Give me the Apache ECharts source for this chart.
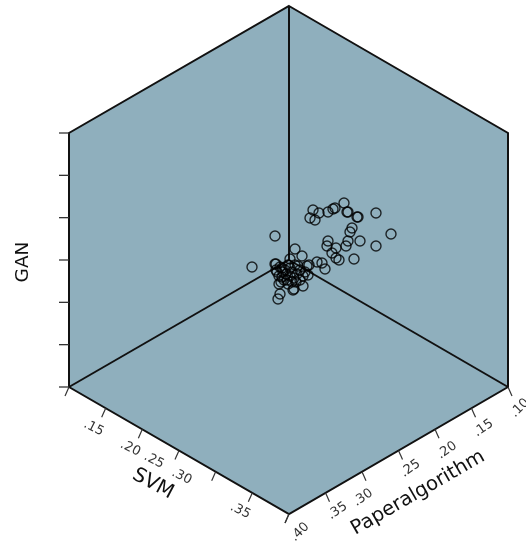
<!DOCTYPE html>
<html><head><meta charset="utf-8">
<style>html,body{margin:0;padding:0;background:#fff}#c{width:526px;height:543px}</style>
<script src="https://cdn.jsdelivr.net/npm/echarts@6/dist/echarts.min.js"></script>
</head><body><div id="c"></div>
<script>
// Projected positions of the observations in the view plane of the 3-D scatter
const viewAcross = [313,319,328,333,335,344,347,348,357,358,376,310,315,352,350,391,360,348,346,376,328,327,336,332,336,339,354,275,252,295,302,290,276,317,322,325,309,307,275,280,277,282,287,293,279,294,303,280,278,282,285,290,295,292,297,300,305,303,300,296,292,288,284,286,290,294,279,283,308,298,288,276,281];
const viewDown = [210,213,212,209,208,203,212,212,217,217,213,218,220,228,232,234,241,241,246,246,241,246,248,253,258,260,259,236,267,249,256,259,264,262,263,269,265,266,264,267,272,277,280,290,284,289,286,294,299,268,270,268,265,272,274,270,272,276,280,282,282,284,280,274,276,278,276,272,275,266,265,270,282];

// Axis ticks
const axisTicks = [0.10,0.15,0.20,0.25,0.30,0.35,0.40];
const svmLabels = ['', '.15', '.20', '.25', '.30', '.35', ''];
const paperLabels = ['.10', '.15', '.20', '.25', '.30', '.35', '.40'];
const ganTickCount = 7;

// Geometry of the cube view (view-plane units)
const back = [289,260], top_ = [289,6], upR = [508,133], lowR = [508,387], front = [289,514], lowL = [69,387], upL = [69,133];
const svmOffset = [[0,0],[-12,20],[-12,19],[-25,10],[-34,5],[-12,18],[4,21]];
const paperOffset = [[12,21],[12,20],[12,21],[12,18],[1,26],[12,18],[11,18]];
const lerp = (a,b,t)=>[a[0]+(b[0]-a[0])*t, a[1]+(b[1]-a[1])*t];
const frac = v => (v-0.10)/0.30;

const chart = echarts.init(document.getElementById('c'), null, {renderer:'canvas'});
const FONT = '"DejaVu Sans"';
const TICK = '#333';

function line(api,a,b,w,color){
  const p=api.coord(a), q=api.coord(b);
  return {type:'line',shape:{x1:p[0],y1:p[1],x2:q[0],y2:q[1]},style:{stroke:color||'#111',lineWidth:w}};
}
function text(api,pos,str,size,rot,color){
  const p=api.coord(pos);
  return {type:'text',x:p[0],y:p[1],rotation:rot*Math.PI/180,originX:0,originY:0,
    style:{text:str,font:size+'px '+FONT,fill:color,align:'center',verticalAlign:'middle'}};
}
function renderFrame(params,api){
  const hex=[top_,upR,lowR,front,lowL,upL].map(p=>api.coord(p));
  const kids=[{type:'polygon',shape:{points:hex},style:{fill:'#8fafbd',stroke:'#111',lineWidth:2}}];
  kids.push(line(api,back,top_,2), line(api,back,lowL,2), line(api,back,lowR,2));
  axisTicks.forEach((v,i)=>{
    const s=lerp(lowL,front,frac(v)), r=lerp(lowR,front,frac(v));
    kids.push(line(api,s,[s[0]-4,s[1]+9],1.2,TICK));
    kids.push(line(api,r,[r[0]+(i===6?-4:4),r[1]+9],1.2,TICK));
    if(svmLabels[i]) kids.push(text(api,[s[0]+svmOffset[i][0],s[1]+svmOffset[i][1]],svmLabels[i],13,-27,'#333'));
    kids.push(text(api,[r[0]+paperOffset[i][0],r[1]+paperOffset[i][1]],paperLabels[i],13,i===6||i===0?45:35,'#333'));
  });
  for(let k=0;k<ganTickCount;k++){
    const g=lerp(lowL,upL,k/(ganTickCount-1));
    kids.push(line(api,g,[g[0]-10,g[1]],1.3,TICK));
  }
  kids.push(text(api,[23,262],'GAN',18.5,90,'#111'));
  kids.push(text(api,[153,484],'SVM',20,-28,'#111'));
  kids.push(text(api,[418,493],'Paperalgorithm',19.7,30,'#111'));
  return {type:'group',children:kids};
}

chart.setOption({
  animation:false,
  backgroundColor:'#fff',
  grid:{left:0,right:0,top:0,bottom:0},
  xAxis:{type:'value',min:0,max:526,show:false},
  yAxis:{type:'value',min:0,max:543,inverse:true,show:false},
  series:[
    {type:'custom',data:[[0,0]],renderItem:renderFrame,silent:true,clip:false,z:1},
    {type:'scatter',data:viewAcross.map((x,i)=>[x,viewDown[i]]),symbol:'circle',symbolSize:10,
     itemStyle:{color:'rgba(0,0,0,0)',borderColor:'#000',borderWidth:1.4},z:3}
  ]
});
</script></body></html>
